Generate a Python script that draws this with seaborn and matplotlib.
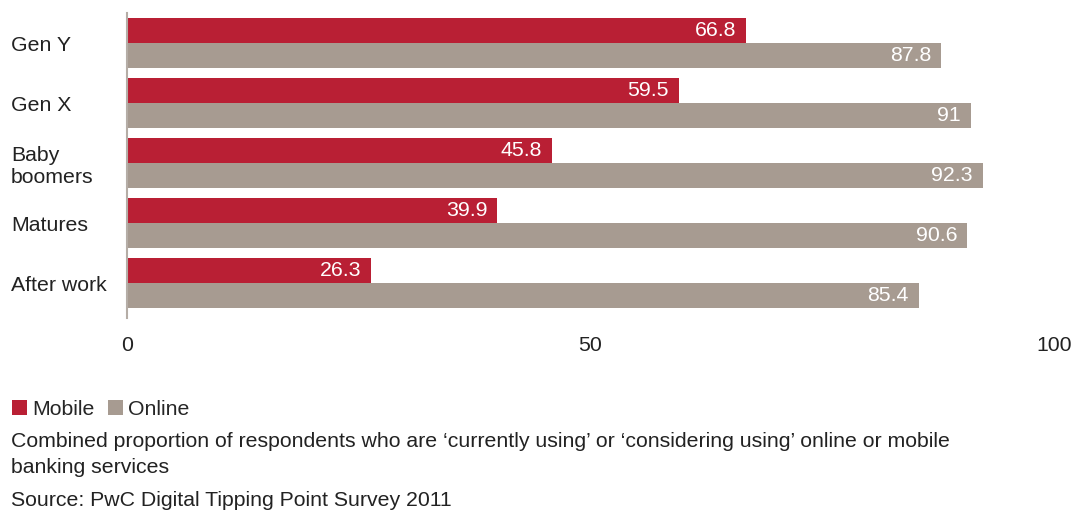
import matplotlib
matplotlib.use("Agg")
import matplotlib.pyplot as plt
import seaborn as sns
import pandas as pd
from matplotlib.patches import Patch

categories = ["Gen Y", "Gen X", "Baby\nboomers", "Matures", "After work"]
mobile = [66.8, 59.5, 45.8, 39.9, 26.3]
online = [87.8, 91, 92.3, 90.6, 85.4]
series = ["Mobile", "Online"]
colors = ["#B91F34", "#A79B91"]
xticks = [0, 50, 100]

df = pd.DataFrame({
    "category": categories * 2,
    "value": mobile + online,
    "series": [series[0]] * len(categories) + [series[1]] * len(categories),
})

sns.set_theme(style="white")
plt.rcParams["font.family"] = ["Liberation Sans", "DejaVu Sans"]
FS = 15.3

fig = plt.figure(figsize=(10.84, 5.11), dpi=100)
ax = fig.add_axes([127 / 1084, 1 - 318 / 511, (1054 - 127) / 1084, (318 - 13) / 511])

sns.barplot(data=df, y="category", x="value", hue="series", order=categories,
            hue_order=series, palette=colors, orient="h", width=0.834,
            saturation=1, linewidth=0, legend=False, ax=ax)

ax.set_xlim(0, 100)
ax.set_ylim(4.583, -0.5)
ax.set_xlabel("")
ax.set_ylabel("")
ax.set_xticks(xticks)
ax.set_xticklabels([str(t) for t in xticks], fontsize=FS, color="#222222")
ax.tick_params(axis="x", length=0, pad=13)
ax.tick_params(axis="y", length=0, pad=83.5, labelsize=FS, labelcolor="#222222")
for t in ax.get_yticklabels():
    t.set_horizontalalignment("left")

for s in ["top", "right", "bottom"]:
    ax.spines[s].set_visible(False)
ax.spines["left"].set_color("#B5ADA6")
ax.spines["left"].set_linewidth(1.5)

for cont, vals in zip(ax.containers, [mobile, online]):
    labs = ax.bar_label(cont, labels=[f"{v:g}" for v in vals], padding=-7,
                        color="white", fontsize=FS)
    for t in labs:
        t.set_horizontalalignment("right")

handles = [Patch(facecolor=c, edgecolor="none", label=s) for c, s in zip(colors, series)]
fig.legend(handles=handles, loc="center left", bbox_to_anchor=(6 / 1084, 1 - 409 / 511),
           ncol=2, frameon=False, fontsize=FS, handlelength=0.7, handleheight=0.7,
           handletextpad=0.25, columnspacing=0.6, borderaxespad=0, borderpad=0.3)

fig.text(11 / 1084, 1 - 441 / 511,
         "Combined proportion of respondents who are \u2018currently using\u2019 or \u2018considering using\u2019 online or mobile",
         fontsize=FS, color="#222222", va="center", ha="left")
fig.text(11 / 1084, 1 - 467 / 511, "banking services",
         fontsize=FS, color="#222222", va="center", ha="left")
fig.text(11 / 1084, 1 - 500 / 511, "Source: PwC Digital Tipping Point Survey 2011",
         fontsize=FS, color="#222222", va="center", ha="left")

fig.savefig("out.png", dpi=100)
